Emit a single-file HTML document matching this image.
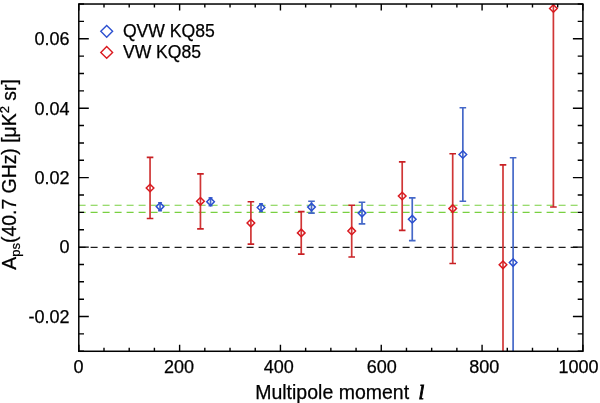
<!DOCTYPE html><html><head><meta charset="utf-8"><style>html,body{margin:0;padding:0;background:#fff;width:600px;height:403px;overflow:hidden}svg{display:block}text{font-family:"Liberation Sans",Arial,Helvetica,sans-serif;fill:#000;stroke:#000;stroke-width:0.25px}</style></head><body>
<svg width="600" height="403" viewBox="0 0 600 403">
<defs><clipPath id="pc"><rect x="78.80" y="4.02" width="504.10" height="347.25"/></clipPath></defs>
<line x1="78.80" y1="205.30" x2="582.90" y2="205.30" stroke="#78d040" stroke-width="1.1" stroke-dasharray="7 5" stroke-dashoffset="0.2"/>
<line x1="78.80" y1="212.40" x2="582.90" y2="212.40" stroke="#78d040" stroke-width="1.1" stroke-dasharray="7 5" stroke-dashoffset="0.2"/>
<line x1="78.80" y1="247.30" x2="582.90" y2="247.30" stroke="#1c1c1c" stroke-width="1.2" stroke-dasharray="7 5" stroke-dashoffset="0.2"/>
<g clip-path="url(#pc)">
<line x1="150.05" y1="157.40" x2="150.05" y2="218.50" stroke="#d03636" stroke-width="1.7"/>
<line x1="146.75" y1="157.40" x2="153.35" y2="157.40" stroke="#c82024" stroke-width="1.6"/>
<line x1="146.75" y1="218.50" x2="153.35" y2="218.50" stroke="#c82024" stroke-width="1.6"/>
<path d="M150.05 184.20L153.85 188.00L150.05 191.80L146.25 188.00Z" fill="none" stroke="#da1a20" stroke-width="1.5"/>
<line x1="200.45" y1="173.90" x2="200.45" y2="228.90" stroke="#d03636" stroke-width="1.7"/>
<line x1="197.15" y1="173.90" x2="203.75" y2="173.90" stroke="#c82024" stroke-width="1.6"/>
<line x1="197.15" y1="228.90" x2="203.75" y2="228.90" stroke="#c82024" stroke-width="1.6"/>
<path d="M200.45 197.50L204.25 201.30L200.45 205.10L196.65 201.30Z" fill="none" stroke="#da1a20" stroke-width="1.5"/>
<line x1="250.90" y1="201.80" x2="250.90" y2="244.10" stroke="#d03636" stroke-width="1.7"/>
<line x1="247.60" y1="201.80" x2="254.20" y2="201.80" stroke="#c82024" stroke-width="1.6"/>
<line x1="247.60" y1="244.10" x2="254.20" y2="244.10" stroke="#c82024" stroke-width="1.6"/>
<path d="M250.90 219.25L254.70 223.05L250.90 226.85L247.10 223.05Z" fill="none" stroke="#da1a20" stroke-width="1.5"/>
<line x1="301.25" y1="211.60" x2="301.25" y2="254.10" stroke="#d03636" stroke-width="1.7"/>
<line x1="297.95" y1="211.60" x2="304.55" y2="211.60" stroke="#c82024" stroke-width="1.6"/>
<line x1="297.95" y1="254.10" x2="304.55" y2="254.10" stroke="#c82024" stroke-width="1.6"/>
<path d="M301.25 229.10L305.05 232.90L301.25 236.70L297.45 232.90Z" fill="none" stroke="#da1a20" stroke-width="1.5"/>
<line x1="351.70" y1="205.20" x2="351.70" y2="257.00" stroke="#d03636" stroke-width="1.7"/>
<line x1="348.40" y1="205.20" x2="355.00" y2="205.20" stroke="#c82024" stroke-width="1.6"/>
<line x1="348.40" y1="257.00" x2="355.00" y2="257.00" stroke="#c82024" stroke-width="1.6"/>
<path d="M351.70 227.15L355.50 230.95L351.70 234.75L347.90 230.95Z" fill="none" stroke="#da1a20" stroke-width="1.5"/>
<line x1="402.20" y1="161.90" x2="402.20" y2="230.40" stroke="#d03636" stroke-width="1.7"/>
<line x1="398.90" y1="161.90" x2="405.50" y2="161.90" stroke="#c82024" stroke-width="1.6"/>
<line x1="398.90" y1="230.40" x2="405.50" y2="230.40" stroke="#c82024" stroke-width="1.6"/>
<path d="M402.20 192.20L406.00 196.00L402.20 199.80L398.40 196.00Z" fill="none" stroke="#da1a20" stroke-width="1.5"/>
<line x1="452.70" y1="153.80" x2="452.70" y2="263.50" stroke="#d03636" stroke-width="1.7"/>
<line x1="449.40" y1="153.80" x2="456.00" y2="153.80" stroke="#c82024" stroke-width="1.6"/>
<line x1="449.40" y1="263.50" x2="456.00" y2="263.50" stroke="#c82024" stroke-width="1.6"/>
<path d="M452.70 204.80L456.50 208.60L452.70 212.40L448.90 208.60Z" fill="none" stroke="#da1a20" stroke-width="1.5"/>
<line x1="503.00" y1="164.90" x2="503.00" y2="400.00" stroke="#d03636" stroke-width="1.7"/>
<line x1="499.70" y1="164.90" x2="506.30" y2="164.90" stroke="#c82024" stroke-width="1.6"/>
<line x1="499.70" y1="400.00" x2="506.30" y2="400.00" stroke="#c82024" stroke-width="1.6"/>
<path d="M503.00 261.00L506.80 264.80L503.00 268.60L499.20 264.80Z" fill="none" stroke="#da1a20" stroke-width="1.5"/>
<line x1="553.40" y1="-10.00" x2="553.40" y2="207.00" stroke="#d03636" stroke-width="1.7"/>
<line x1="550.10" y1="-10.00" x2="556.70" y2="-10.00" stroke="#c82024" stroke-width="1.6"/>
<line x1="550.10" y1="207.00" x2="556.70" y2="207.00" stroke="#c82024" stroke-width="1.6"/>
<path d="M553.40 4.70L557.20 8.50L553.40 12.30L549.60 8.50Z" fill="none" stroke="#da1a20" stroke-width="1.5"/>
<line x1="160.05" y1="202.70" x2="160.05" y2="210.60" stroke="#4568c8" stroke-width="1.7"/>
<line x1="158.05" y1="202.70" x2="162.05" y2="202.70" stroke="#4568c8" stroke-width="1.6"/>
<line x1="158.05" y1="210.60" x2="162.05" y2="210.60" stroke="#4568c8" stroke-width="1.6"/>
<path d="M160.05 202.80L163.85 206.60L160.05 210.40L156.25 206.60Z" fill="none" stroke="#2c50d0" stroke-width="1.5"/>
<line x1="210.55" y1="197.90" x2="210.55" y2="205.80" stroke="#4568c8" stroke-width="1.7"/>
<line x1="208.55" y1="197.90" x2="212.55" y2="197.90" stroke="#4568c8" stroke-width="1.6"/>
<line x1="208.55" y1="205.80" x2="212.55" y2="205.80" stroke="#4568c8" stroke-width="1.6"/>
<path d="M210.55 198.00L214.35 201.80L210.55 205.60L206.75 201.80Z" fill="none" stroke="#2c50d0" stroke-width="1.5"/>
<line x1="261.05" y1="203.80" x2="261.05" y2="211.50" stroke="#4568c8" stroke-width="1.7"/>
<line x1="259.05" y1="203.80" x2="263.05" y2="203.80" stroke="#4568c8" stroke-width="1.6"/>
<line x1="259.05" y1="211.50" x2="263.05" y2="211.50" stroke="#4568c8" stroke-width="1.6"/>
<path d="M261.05 203.70L264.85 207.50L261.05 211.30L257.25 207.50Z" fill="none" stroke="#2c50d0" stroke-width="1.5"/>
<line x1="311.50" y1="201.20" x2="311.50" y2="213.10" stroke="#4568c8" stroke-width="1.7"/>
<line x1="308.20" y1="201.20" x2="314.80" y2="201.20" stroke="#4568c8" stroke-width="1.6"/>
<line x1="308.20" y1="213.10" x2="314.80" y2="213.10" stroke="#4568c8" stroke-width="1.6"/>
<path d="M311.50 203.30L315.30 207.10L311.50 210.90L307.70 207.10Z" fill="none" stroke="#2c50d0" stroke-width="1.5"/>
<line x1="362.00" y1="202.20" x2="362.00" y2="223.90" stroke="#4568c8" stroke-width="1.7"/>
<line x1="358.70" y1="202.20" x2="365.30" y2="202.20" stroke="#4568c8" stroke-width="1.6"/>
<line x1="358.70" y1="223.90" x2="365.30" y2="223.90" stroke="#4568c8" stroke-width="1.6"/>
<path d="M362.00 209.30L365.80 213.10L362.00 216.90L358.20 213.10Z" fill="none" stroke="#2c50d0" stroke-width="1.5"/>
<line x1="412.25" y1="197.90" x2="412.25" y2="240.60" stroke="#4568c8" stroke-width="1.7"/>
<line x1="408.95" y1="197.90" x2="415.55" y2="197.90" stroke="#4568c8" stroke-width="1.6"/>
<line x1="408.95" y1="240.60" x2="415.55" y2="240.60" stroke="#4568c8" stroke-width="1.6"/>
<path d="M412.25 215.40L416.05 219.20L412.25 223.00L408.45 219.20Z" fill="none" stroke="#2c50d0" stroke-width="1.5"/>
<line x1="462.85" y1="107.80" x2="462.85" y2="201.30" stroke="#4568c8" stroke-width="1.7"/>
<line x1="459.55" y1="107.80" x2="466.15" y2="107.80" stroke="#4568c8" stroke-width="1.6"/>
<line x1="459.55" y1="201.30" x2="466.15" y2="201.30" stroke="#4568c8" stroke-width="1.6"/>
<path d="M462.85 150.70L466.65 154.50L462.85 158.30L459.05 154.50Z" fill="none" stroke="#2c50d0" stroke-width="1.5"/>
<line x1="513.10" y1="157.80" x2="513.10" y2="400.00" stroke="#4568c8" stroke-width="1.7"/>
<line x1="509.80" y1="157.80" x2="516.40" y2="157.80" stroke="#4568c8" stroke-width="1.6"/>
<line x1="509.80" y1="400.00" x2="516.40" y2="400.00" stroke="#4568c8" stroke-width="1.6"/>
<path d="M513.10 258.75L516.90 262.55L513.10 266.35L509.30 262.55Z" fill="none" stroke="#2c50d0" stroke-width="1.5"/>
</g>
<rect x="78.80" y="4.02" width="504.10" height="347.25" fill="none" stroke="#000" stroke-width="1.5"/>
<path d="M78.80 351.27V344.77M78.80 4.02V10.52M104.00 351.27V347.67M104.00 4.02V7.62M129.21 351.27V347.67M129.21 4.02V7.62M154.41 351.27V347.67M154.41 4.02V7.62M179.62 351.27V344.77M179.62 4.02V10.52M204.82 351.27V347.67M204.82 4.02V7.62M230.03 351.27V347.67M230.03 4.02V7.62M255.24 351.27V347.67M255.24 4.02V7.62M280.44 351.27V344.77M280.44 4.02V10.52M305.64 351.27V347.67M305.64 4.02V7.62M330.85 351.27V347.67M330.85 4.02V7.62M356.06 351.27V347.67M356.06 4.02V7.62M381.26 351.27V344.77M381.26 4.02V10.52M406.47 351.27V347.67M406.47 4.02V7.62M431.67 351.27V347.67M431.67 4.02V7.62M456.88 351.27V347.67M456.88 4.02V7.62M482.08 351.27V344.77M482.08 4.02V10.52M507.29 351.27V347.67M507.29 4.02V7.62M532.49 351.27V347.67M532.49 4.02V7.62M557.69 351.27V347.67M557.69 4.02V7.62M582.90 351.27V344.77M582.90 4.02V10.52M78.80 351.27H84.00M582.90 351.27H577.70M78.80 333.91H84.00M582.90 333.91H577.70M78.80 316.55H88.80M582.90 316.55H572.90M78.80 299.19H84.00M582.90 299.19H577.70M78.80 281.82H84.00M582.90 281.82H577.70M78.80 264.46H84.00M582.90 264.46H577.70M78.80 247.10H88.80M582.90 247.10H572.90M78.80 229.74H84.00M582.90 229.74H577.70M78.80 212.38H84.00M582.90 212.38H577.70M78.80 195.01H84.00M582.90 195.01H577.70M78.80 177.65H88.80M582.90 177.65H572.90M78.80 160.29H84.00M582.90 160.29H577.70M78.80 142.93H84.00M582.90 142.93H577.70M78.80 125.56H84.00M582.90 125.56H577.70M78.80 108.20H88.80M582.90 108.20H572.90M78.80 90.84H84.00M582.90 90.84H577.70M78.80 73.47H84.00M582.90 73.47H577.70M78.80 56.11H84.00M582.90 56.11H577.70M78.80 38.75H88.80M582.90 38.75H572.90M78.80 21.39H84.00M582.90 21.39H577.70M78.80 4.02H84.00M582.90 4.02H577.70" stroke="#000" stroke-width="1.4" fill="none"/>
<text x="69.6" y="45.05" font-size="18" text-anchor="end">0.06</text>
<text x="69.6" y="114.50" font-size="18" text-anchor="end">0.04</text>
<text x="69.6" y="183.95" font-size="18" text-anchor="end">0.02</text>
<text x="69.6" y="253.40" font-size="18" text-anchor="end">0</text>
<text x="69.6" y="322.85" font-size="18" text-anchor="end">-0.02</text>
<text x="78.40" y="373.2" font-size="18" text-anchor="middle">0</text>
<text x="178.92" y="373.2" font-size="18" text-anchor="middle">200</text>
<text x="278.84" y="373.2" font-size="18" text-anchor="middle">400</text>
<text x="381.86" y="373.2" font-size="18" text-anchor="middle">600</text>
<text x="484.18" y="373.2" font-size="18" text-anchor="middle">800</text>
<text x="598.6" y="373.2" font-size="18" text-anchor="end">1000</text>
<text x="255.2" y="398.8" font-size="19.5">Multipole moment</text>
<text x="418.6" y="398.6" font-size="20.5" font-style="italic" style="font-family:'Liberation Serif',serif;stroke-width:0.9px">l</text>
<text transform="translate(16.1,269.7) rotate(-90)" font-size="19.4">A<tspan font-size="13" dy="4.3">ps</tspan><tspan dy="-4.3">(40.7 GHz) [μK</tspan><tspan font-size="13" dy="-6.8">2</tspan><tspan dy="6.8"> sr]</tspan></text>
<path d="M106.7 25.4L112.6 31.3L106.7 37.2L100.8 31.3Z" fill="none" stroke="#2c50d0" stroke-width="1.4"/>
<path d="M106.7 46.5L112.6 52.4L106.7 58.3L100.8 52.4Z" fill="none" stroke="#da1a20" stroke-width="1.4"/>
<text x="122.9" y="37.4" font-size="17.6">QVW KQ85</text>
<text x="122.9" y="58.2" font-size="17.6">VW KQ85</text>
</svg></body></html>
